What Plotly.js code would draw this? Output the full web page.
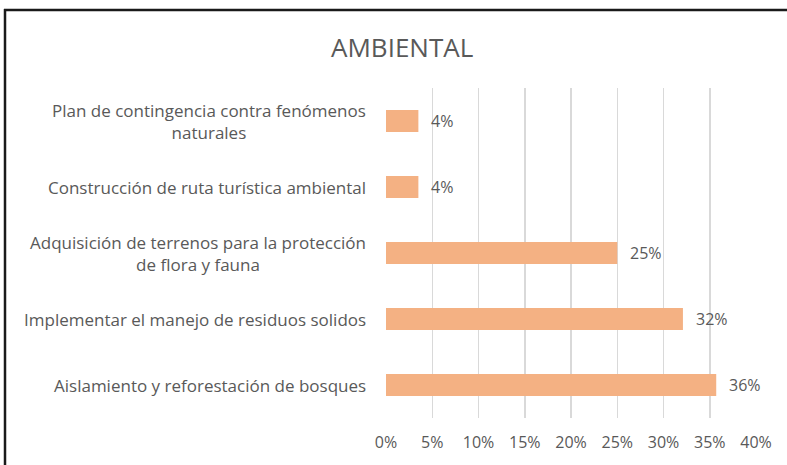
<!DOCTYPE html>
<html>
<head>
<meta charset="utf-8">
<script src="https://cdn.plot.ly/plotly-3.0.1.min.js"></script>
<style>html,body{margin:0;padding:0;background:#fff;}#chart{width:787px;height:465px;}</style>
</head>
<body>
<div id="chart"></div>
<script>
// Data (top to bottom as shown)
const categories = [
  "Plan de contingencia contra fenómenos<br>naturales",
  "Construcción de ruta turística ambiental",
  "Adquisición de terrenos para la protección<br>de flora y fauna",
  "Implementar el manejo de residuos solidos",
  "Aislamiento y reforestación de bosques"
];
const values = [0.035, 0.035, 0.25, 0.321, 0.357];
const valueLabels = ["4%", "4%", "25%", "32%", "36%"];
const tickValues = [0, 0.05, 0.10, 0.15, 0.20, 0.25, 0.30, 0.35, 0.40];
const tickLabels = ["0%", "5%", "10%", "15%", "20%", "25%", "30%", "35%", "40%"];

const FONT = "'Open Sans', Lato, sans-serif";
const GREY = "#595959";

const trace = {
  type: "bar",
  orientation: "h",
  x: values,
  y: categories,
  marker: {color: "#F4B183"},
  hoverinfo: "skip"
};

const annotations = [];
categories.forEach((c, i) => {
  annotations.push({
    xref: "paper", yref: "y", x: 0, y: c, xanchor: "right", yanchor: "middle",
    xshift: -18, text: c, showarrow: false, align: "center",
    font: {family: FONT, size: 17, color: GREY}
  });
  annotations.push({
    xref: "x", yref: "y", x: values[i], y: c, xanchor: "left", yanchor: "middle",
    xshift: 11, text: valueLabels[i], showarrow: false,
    font: {family: FONT, size: 16, color: GREY}
  });
});

const layout = {
  width: 787, height: 465,
  margin: {l: 386, r: 31, t: 88, b: 47},
  paper_bgcolor: "#fff", plot_bgcolor: "#fff",
  showlegend: false,
  bargap: 0.667,
  title: {
    text: "AMBIENTAL",
    font: {family: FONT, size: 26, color: GREY},
    x: 0.511, xref: "container", xanchor: "center",
    y: 1 - 48/465, yref: "container", yanchor: "middle"
  },
  xaxis: {
    range: [0, 0.40],
    tickvals: tickValues, ticktext: tickLabels,
    showgrid: true, gridcolor: "#d9d9d9", gridwidth: 1.5,
    zeroline: false, showline: false, ticks: "",
    ticklabelstandoff: 13,
    tickfont: {family: FONT, size: 16, color: GREY},
    fixedrange: true
  },
  yaxis: {
    type: "category", autorange: "reversed",
    showticklabels: false, showgrid: false, zeroline: false, showline: false, ticks: "",
    fixedrange: true
  },
  annotations: annotations,
  shapes: [
    {type: "line", xref: "paper", yref: "paper", x0: (4-386)/370, x1: (787-386)/370,
     y0: (418-10)/330, y1: (418-10)/330, line: {color: "#1a1a1a", width: 2.5}},
    {type: "line", xref: "paper", yref: "paper", x0: (5-386)/370, x1: (5-386)/370,
     y0: (418-9)/330, y1: (418-466)/330, line: {color: "#1a1a1a", width: 2.5}}
  ]
};

Plotly.newPlot("chart", [trace], layout, {displayModeBar: false, staticPlot: true});
</script>
</body>
</html>
